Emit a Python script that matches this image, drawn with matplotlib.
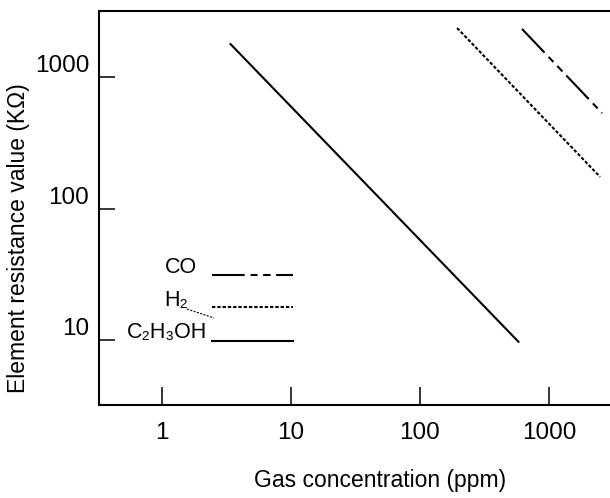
import matplotlib
matplotlib.use('Agg')
import matplotlib.pyplot as plt
from matplotlib.ticker import NullLocator

plt.rcParams['font.family'] = ['Liberation Sans', 'DejaVu Sans']
plt.rcParams['lines.scale_dashes'] = False

# values (ppm, kOhm), end points of each straight log-log line
conc_c2h5oh = [3.4, 580]
res_c2h5oh = [1780, 9.7]
conc_h2 = [194, 2490]
res_h2 = [2360, 174]
conc_co = [618, 2580]
res_co = [2320, 532]

gas_labels = ['CO', 'H₂', 'C₂H₃OH']
x_ticks = [1, 10, 100, 1000]
x_ticklabels = ['1', '10', '100', '1000']
y_ticks = [10, 100, 1000]
y_ticklabels = ['10', '100', '1000']

W, H = 610, 498
L, R, T, B = 99, 610, 11, 405  # axes frame in pixels

fig = plt.figure(figsize=(W / 100, H / 100), dpi=100)
ax = fig.add_axes([L / W, 1 - B / H, (R - L) / W, (B - T) / H])
ax.set_xscale('log')
ax.set_yscale('log')
ax.set_xlim(10 ** -0.488, 10 ** 3.473)
ax.set_ylim(10 ** 0.506, 10 ** 3.502)

co_style = (0, (23.5, 4.3, 5.0, 4.0, 5.4, 4.0))
h2_style = (0, (2.4, 1.4))
c2_style = '-'
styles = [co_style, h2_style, c2_style]

ax.plot(conc_co, res_co, color='black', lw=1.5, ls=co_style)
ax.plot(conc_h2, res_h2, color='black', lw=1.5, ls=h2_style)
ax.plot(conc_c2h5oh, res_c2h5oh, color='black', lw=1.5, ls=c2_style)

ax.set_xticks(x_ticks, x_ticklabels)
ax.set_yticks(y_ticks, y_ticklabels)
ax.xaxis.set_minor_locator(NullLocator())
ax.yaxis.set_minor_locator(NullLocator())
ax.tick_params(axis='x', direction='in', length=13, width=1.1, pad=12, labelsize=17.5)
ax.tick_params(axis='y', direction='in', length=11.5, width=1.1, pad=7, labelsize=17.5)
for lbl in ax.get_yticklabels():
    lbl.set_verticalalignment('bottom')

ax.spines['right'].set_visible(False)
for s in ['left', 'top', 'bottom']:
    ax.spines[s].set_linewidth(1.5)


def px(x, y):
    # pixel position -> axes fraction
    return (x - L) / (R - L), (B - y) / (B - T)


# hand drawn key inside the plot
key_x0, key_x1 = 212, 293
key_y = [275, 307, 341]
label_right = [197, 188, 207]
label_base = [273, 306, 338]
for lab, st, ky, lr, lb in zip(gas_labels, styles, key_y, label_right, label_base):
    (x0, y0), (x1, _) = px(key_x0, ky), px(key_x1, ky)
    ax.plot([x0, x1], [y0, y0], transform=ax.transAxes, color='black', lw=1.5, ls=st)
    tx, ty = px(lr, lb)
    ax.text(tx, ty, lab, transform=ax.transAxes, ha='right', va='baseline', fontsize=15.5)

# little leader under H2
(lx0, ly0), (lx1, ly1) = px(187, 309), px(214, 318)
ax.plot([lx0, lx1], [ly0, ly1], transform=ax.transAxes, color='black', lw=0.8, ls=(0, (1.5, 1.0)))

fig.text(380 / W, 1 - 487 / H, 'Gas concentration (ppm)', ha='center', va='baseline', fontsize=16.5)
fig.text(19 / W, 1 - 238 / H, 'Element resistance value (KΩ)', rotation=90,
         ha='center', va='center', fontsize=16.5)

fig.savefig('out.png', dpi=100)
